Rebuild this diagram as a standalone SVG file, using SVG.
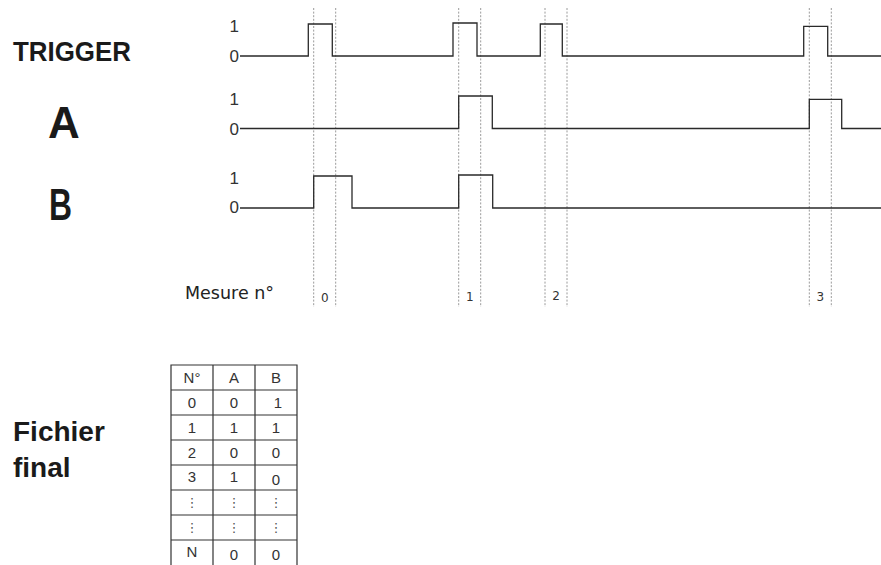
<svg xmlns="http://www.w3.org/2000/svg" width="881" height="565" viewBox="0 0 881 565">
<style>
.title{font-family:"Liberation Sans",Arial,sans-serif;font-weight:bold;fill:#1a1a1a}
.lvl{font-family:"Liberation Sans",Arial,sans-serif;font-size:17px;fill:#333}
.sig{fill:none;stroke:#2a2a2a;stroke-width:1.3}
.dot{stroke:#9a9a9a;stroke-width:1;stroke-dasharray:2 1.6}
.mes{font-family:"DejaVu Sans",sans-serif;font-size:12px;fill:#333;text-anchor:middle}
.tbl{stroke:#333;stroke-width:1.2;fill:none}
.cell{font-family:"Liberation Sans",Arial,sans-serif;font-size:15px;fill:#333;text-anchor:middle}
.ell{font-family:"DejaVu Sans",sans-serif;font-size:13px;fill:#555;text-anchor:middle}
</style>
<rect width="881" height="565" fill="#ffffff"/>

<g id="markers">
  <line class="dot" x1="313.7" y1="8" x2="313.7" y2="307"/>
  <line class="dot" x1="335.7" y1="8" x2="335.7" y2="307"/>
  <line class="dot" x1="458.7" y1="8" x2="458.7" y2="307"/>
  <line class="dot" x1="480.7" y1="8" x2="480.7" y2="307"/>
  <line class="dot" x1="545" y1="8" x2="545" y2="307"/>
  <line class="dot" x1="567" y1="8" x2="567" y2="307"/>
  <line class="dot" x1="809.3" y1="8" x2="809.3" y2="307"/>
  <line class="dot" x1="831.3" y1="8" x2="831.3" y2="307"/>
</g>

<g id="trigger">
  <text class="title" x="13" y="61" font-size="28" textLength="118" lengthAdjust="spacingAndGlyphs">TRIGGER</text>
  <text class="lvl" x="239" y="32" text-anchor="end">1</text>
  <text class="lvl" x="239" y="62" text-anchor="end">0</text>
  <path class="sig" d="M240,56 H308.3 V24 H332.3 V56 H453 V23 H477 V56 H540.3 V24 H562.3 V56 H803.7 V26.3 H827.7 V56 H881"/>
</g>

<g id="signalA">
  <text class="title" x="48" y="138.3" font-size="44">A</text>
  <text class="lvl" x="239" y="104.5" text-anchor="end">1</text>
  <text class="lvl" x="239" y="135" text-anchor="end">0</text>
  <path class="sig" d="M240,128.5 H458.7 V96 H492.3 V128.5 H809.3 V99.3 H841.7 V128.5 H881"/>
</g>

<g id="signalB">
  <text class="title" x="49" y="220" font-size="44" textLength="23" lengthAdjust="spacingAndGlyphs">B</text>
  <text class="lvl" x="239" y="183.5" text-anchor="end">1</text>
  <text class="lvl" x="239" y="213" text-anchor="end">0</text>
  <path class="sig" d="M240,208 H313.7 V176 H352 V208 H458.7 V175 H492.7 V208 H881"/>
</g>

<g id="mesure">
  <text x="185" y="299" font-family="DejaVu Sans, sans-serif" font-size="17.5" fill="#222">Mesure n°</text>
  <text class="mes" x="324.7" y="302" font-size="11">0</text>
  <text class="mes" x="469.7" y="301">1</text>
  <text class="mes" x="556" y="300">2</text>
  <text class="mes" x="820.3" y="301">3</text>
</g>

<g id="fichier-final">
  <text class="title" x="13" y="441" font-size="28">Fichier</text>
  <text class="title" x="13" y="477" font-size="28">final</text>
</g>

<g id="table">
  <path class="tbl" d="M171,565 V365 H297 V565 M213,365 V565 M255,365 V565 M171,390 H297 M171,415 H297 M171,440 H297 M171,465 H297 M171,490 H297 M171,515 H297 M171,540 H297"/>
  <text class="cell" x="192" y="383">N°</text>
  <text class="cell" x="234" y="383">A</text>
  <text class="cell" x="276" y="383">B</text>
  <text class="cell" x="192" y="408">0</text>
  <text class="cell" x="234" y="408">0</text>
  <text class="cell" x="278" y="408">1</text>
  <text class="cell" x="192" y="433">1</text>
  <text class="cell" x="234" y="433">1</text>
  <text class="cell" x="276" y="433">1</text>
  <text class="cell" x="192" y="458">2</text>
  <text class="cell" x="234" y="458">0</text>
  <text class="cell" x="276" y="458">0</text>
  <text class="cell" x="192" y="482">3</text>
  <text class="cell" x="234" y="482">1</text>
  <text class="cell" x="276" y="485">0</text>
  <text class="ell" x="192" y="507">⋮</text>
  <text class="ell" x="234" y="507">⋮</text>
  <text class="ell" x="276" y="507">⋮</text>
  <text class="ell" x="192" y="532">⋮</text>
  <text class="ell" x="234" y="532">⋮</text>
  <text class="ell" x="276" y="532">⋮</text>
  <text class="cell" x="192" y="557">N</text>
  <text class="cell" x="234" y="560">0</text>
  <text class="cell" x="276" y="560">0</text>
</g>
</svg>
